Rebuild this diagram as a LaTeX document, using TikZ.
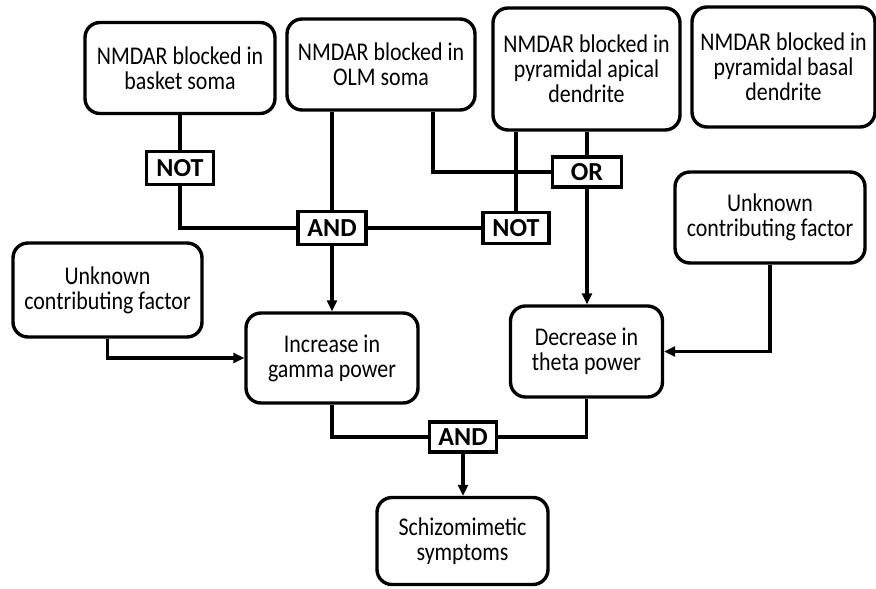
\documentclass[tikz,border=0pt]{standalone}
\usepackage{fontspec}
\setmainfont{Carlito}[FakeStretch=0.86]
\newfontfamily\gatefont{Carlito}
\usetikzlibrary{arrows.meta}
\begin{document}
\begin{tikzpicture}[x=1pt,y=-1pt,
  box/.style={draw, line width=3.4pt, rounded corners=15pt, align=center, inner sep=0pt,
    font=\fontsize{25.5}{25}\selectfont},
  gate/.style={draw, line width=3.4pt, inner sep=0pt, font=\gatefont\fontsize{26}{28}\selectfont\bfseries},
  conn/.style={line width=3.4pt},
  arr/.style={conn, -{Triangle[length=11pt,width=10pt]}}]
\useasboundingbox (0,0) rectangle (876,589);
% boxes
\node[box, minimum width=190pt, minimum height=91pt] (b1) at (180,68) {NMDAR blocked in\\basket soma};
\node[box, minimum width=188pt, minimum height=91pt] (b2) at (381,64.5) {NMDAR blocked in\\OLM soma};
\node[box, minimum width=187pt, minimum height=122pt] (b3) at (586.5,69) {NMDAR blocked in\\pyramidal apical\\dendrite};
\node[box, minimum width=183pt, minimum height=120pt] (b4) at (783.5,67) {NMDAR blocked in\\pyramidal basal\\dendrite};
\node[box, minimum width=190pt, minimum height=91pt] (ur) at (770,217.5) {Unknown\\contributing factor};
\node[box, minimum width=189pt, minimum height=94pt] (ul) at (107.5,290) {Unknown\\contributing factor};
\node[box, minimum width=172pt, minimum height=90pt] (gam) at (332,358) {Increase in\\gamma power};
\node[box, minimum width=152pt, minimum height=91pt] (th) at (586.5,351.5) {Decrease in\\theta power};
\node[box, minimum width=171pt, minimum height=87pt] (sc) at (462.5,541) {Schizomimetic\\symptoms};
% gates
\node[gate, minimum width=67pt, minimum height=33pt] (n1) at (180,168) {NOT};
\node[gate, minimum width=68pt, minimum height=33pt] (a1) at (332,228) {AND};
\node[gate, minimum width=66pt, minimum height=31pt] (n2) at (516,228) {NOT};
\node[gate, minimum width=69pt, minimum height=30pt] (or) at (587,172) {OR};
\node[gate, minimum width=67pt, minimum height=30pt] (a2) at (463,437) {AND};
% connectors
\draw[conn] (b1.south) -- (n1.north);
\draw[conn] (n1.south) |- (a1.west);
\draw[conn] (a1.north |- b2.south) -- (a1.north);
\draw[conn] ([xshift=52pt]b2.south) |- (or.west);
\draw[conn] (n2.north |- b3.south) -- (n2.north);
\draw[conn] (or.north |- b3.south) -- (or.north);
\draw[conn] (n2.west) -- (a1.east);
\draw[arr] (or.south) -- (or.south |- th.north);
\draw[arr] (a1.south) -- (a1.south |- gam.north);
\draw[arr] (ul.south) |- (gam.west);
\draw[arr] (ur.south) |- (th.east);
\draw[conn] (gam.south) |- (a2.west);
\draw[conn] (th.south) |- (a2.east);
\draw[arr] (a2.south) -- (a2.south |- sc.north);
\end{tikzpicture}
\end{document}
